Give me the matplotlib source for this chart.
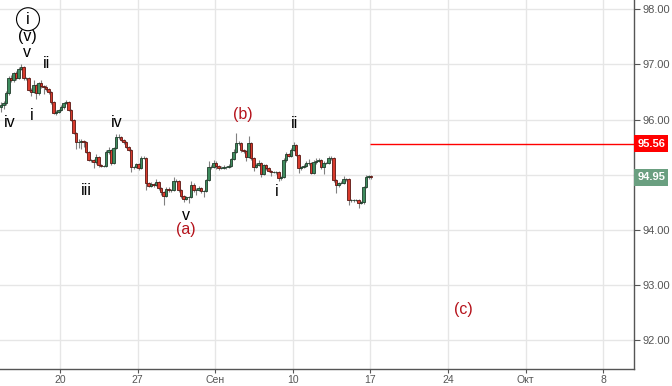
import matplotlib
matplotlib.use("Agg")
import matplotlib.pyplot as plt
import matplotlib.transforms as mtransforms

plt.rcParams['font.family'] = ['Liberation Sans', 'DejaVu Sans']

# 4h candles, closes (open = previous close)
first_open = 96.22
closes = [
    96.26, 96.30, 96.48, 96.75, 96.72, 96.84, 96.75, 96.92, 96.95, 96.75,
    96.75, 96.54, 96.50, 96.63, 96.48, 96.66, 96.61, 96.59, 96.55, 96.50,
    96.32, 96.12, 96.14, 96.17, 96.23, 96.30, 96.32, 96.17, 95.99, 95.76,
    95.59, 95.59, 95.61, 95.59, 95.41, 95.26, 95.26, 95.23, 95.32, 95.17,
    95.16, 95.16, 95.41, 95.45, 95.21, 95.48, 95.68, 95.68, 95.63, 95.59,
    95.50, 95.45, 95.14, 95.14, 95.19, 95.12, 95.30, 95.30, 94.85, 94.80,
    94.83, 94.81, 94.87, 94.76, 94.68, 94.61, 94.74, 94.72, 94.72, 94.89,
    94.89, 94.72, 94.61, 94.56, 94.59, 94.59, 94.81, 94.72, 94.72, 94.76,
    94.70, 94.70, 94.90, 95.14, 95.14, 95.21, 95.16, 95.12, 95.12, 95.14,
    95.14, 95.16, 95.28, 95.41, 95.57, 95.57, 95.45, 95.43, 95.32, 95.57,
    95.30, 95.14, 95.17, 95.21, 95.01, 95.17, 95.12, 95.06, 95.05, 95.05,
    95.05, 94.94, 94.96, 95.26, 95.37, 95.34, 95.45, 95.54, 95.36, 95.12,
    95.14, 95.16, 95.21, 95.21, 95.03, 95.23, 95.25, 95.26, 95.14, 95.21,
    95.21, 95.30, 95.30, 94.90, 94.81, 94.85, 94.85, 94.92, 94.92, 94.54,
    94.54, 94.54, 94.54, 94.48, 94.50, 94.77, 94.95, 94.97, 94.95,
]
upper_wick = [
    0.05, 0.04, 0.03, 0.04, 0.05, 0.03, 0.04, 0.03, 0.06, 0.02,
    0.03, 0.02, 0.03, 0.08, 0.02, 0.03, 0.05, 0.02, 0.03, 0.02,
    0.02, 0.02, 0.03, 0.02, 0.03, 0.02, 0.04, 0.02, 0.02, 0.02,
    0.02, 0.05, 0.03, 0.02, 0.02, 0.02, 0.03, 0.02, 0.05, 0.02,
    0.02, 0.02, 0.04, 0.06, 0.02, 0.03, 0.06, 0.05, 0.02, 0.02,
    0.02, 0.02, 0.02, 0.02, 0.03, 0.02, 0.04, 0.03, 0.02, 0.02,
    0.03, 0.02, 0.05, 0.02, 0.02, 0.02, 0.04, 0.03, 0.02, 0.07,
    0.03, 0.02, 0.02, 0.02, 0.03, 0.02, 0.08, 0.03, 0.03, 0.03,
    0.02, 0.02, 0.03, 0.10, 0.04, 0.06, 0.03, 0.02, 0.03, 0.03,
    0.02, 0.04, 0.03, 0.05, 0.19, 0.04, 0.02, 0.02, 0.02, 0.14,
    0.02, 0.02, 0.04, 0.05, 0.02, 0.03, 0.02, 0.02, 0.02, 0.02,
    0.02, 0.02, 0.02, 0.04, 0.05, 0.03, 0.04, 0.05, 0.02, 0.02,
    0.02, 0.03, 0.04, 0.08, 0.02, 0.03, 0.05, 0.04, 0.02, 0.03,
    0.02, 0.03, 0.03, 0.02, 0.02, 0.02, 0.03, 0.05, 0.02, 0.02,
    0.02, 0.02, 0.02, 0.02, 0.03, 0.03, 0.04, 0.03, 0.02,
]
lower_wick = [
    0.08, 0.06, 0.04, 0.03, 0.04, 0.03, 0.03, 0.02, 0.02, 0.03,
    0.03, 0.03, 0.08, 0.02, 0.10, 0.03, 0.03, 0.12, 0.03, 0.03,
    0.03, 0.02, 0.03, 0.02, 0.02, 0.03, 0.02, 0.02, 0.02, 0.02,
    0.12, 0.10, 0.12, 0.08, 0.02, 0.02, 0.03, 0.11, 0.03, 0.04,
    0.02, 0.03, 0.02, 0.03, 0.03, 0.02, 0.02, 0.03, 0.02, 0.03,
    0.02, 0.02, 0.09, 0.03, 0.02, 0.03, 0.02, 0.02, 0.13, 0.03,
    0.02, 0.04, 0.02, 0.03, 0.04, 0.16, 0.02, 0.03, 0.04, 0.02,
    0.02, 0.03, 0.03, 0.06, 0.02, 0.10, 0.02, 0.03, 0.08, 0.02,
    0.03, 0.10, 0.02, 0.02, 0.03, 0.02, 0.05, 0.03, 0.02, 0.02,
    0.03, 0.02, 0.02, 0.02, 0.02, 0.03, 0.04, 0.03, 0.08, 0.02,
    0.03, 0.07, 0.02, 0.02, 0.06, 0.02, 0.03, 0.02, 0.08, 0.02,
    0.03, 0.06, 0.03, 0.02, 0.03, 0.02, 0.02, 0.02, 0.02, 0.09,
    0.03, 0.02, 0.02, 0.03, 0.02, 0.02, 0.03, 0.02, 0.03, 0.12,
    0.02, 0.02, 0.03, 0.03, 0.14, 0.03, 0.02, 0.02, 0.03, 0.09,
    0.03, 0.03, 0.02, 0.08, 0.02, 0.03, 0.02, 0.02, 0.03,
]

# weekly ticks (Mondays), in candle-index units
tick_pos = [23.6, 54.64, 85.68, 116.72, 147.76, 178.8, 209.84, 240.88]
tick_labels = ['20', '27', 'Сен', '10', '17', '24', 'Окт', '8']
price_ticks = [92, 93, 94, 95, 96, 97, 98]
price_tick_labels = ['92.00', '93.00', '94.00', '', '96.00', '97.00', '98.00']

target_level = 95.56
last_price = closes[-1]

# wave labels: (text, x, y, colour)
waves = [
    ('(v)', 10.4, 97.50, 'black'),
    ('v', 10.4, 97.21, 'black'),
    ('ii', 18.4, 97.01, 'black'),
    ('iv', 3.6, 95.95, 'black'),
    ('i', 12.4, 96.08, 'black'),
    ('iv', 46.4, 95.95, 'black'),
    ('iii', 34.0, 94.72, 'black'),
    ('v', 74.0, 94.25, 'black'),
    ('(a)', 74.0, 94.00, '#b5121b'),
    ('(b)', 96.8, 96.10, '#b5121b'),
    ('ii', 117.6, 95.93, 'black'),
    ('i', 110.4, 94.69, 'black'),
    ('(c)', 184.8, 92.55, '#b5121b'),
]

opens = [first_open] + closes[:-1]
highs = [max(o, c) + w for o, c, w in zip(opens, closes, upper_wick)]
lows = [min(o, c) - w for o, c, w in zip(opens, closes, lower_wick)]
xs = list(range(len(closes)))

fig = plt.figure(figsize=(6.72, 3.86), dpi=100)
ax = fig.add_axes([0, 17 / 386, 634 / 672, 369 / 386])

ax.vlines(xs, lows, highs, color='#808080', lw=0.8, zorder=2)
up_col, dn_col = '#3e8c5e', '#d83a2c'
for x, o, c in zip(xs, opens, closes):
    up = c >= o
    ax.bar(x, c - o if abs(c - o) > 0.004 else 0.004, bottom=o, width=0.95,
           color=up_col if up else dn_col,
           edgecolor='#1f3b2a' if up else '#5a1612', linewidth=0.6, zorder=3)

ax.hlines(target_level, 147.6, 253.2, color='red', lw=1, zorder=4)

for txt, x, y, col in waves:
    ax.text(x, y, txt, ha='center', va='center', fontsize=11.5, color=col, zorder=5)
ax.text(10.8, 97.82, 'i', ha='center', va='center', fontsize=11.5, zorder=5,
        bbox=dict(boxstyle='circle,pad=0.25', fc='white', ec='black', lw=0.8))

ax.set_xlim(-0.4, 253.2)
ax.set_ylim(91.474, 98.169)
ax.set_xticks(tick_pos)
ax.set_xticklabels(tick_labels)
ax.set_yticks(price_ticks)
ax.set_yticklabels(price_tick_labels)
ax.yaxis.tick_right()
ax.grid(True, color='#e6e6e6', lw=1)
ax.set_axisbelow(True)
ax.tick_params(axis='y', colors='#555555', labelcolor='#555555', labelsize=8,
               length=4, width=0.8, direction='out', pad=2)
ax.tick_params(axis='x', colors='#555555', labelcolor='#555555', labelsize=7.5,
               length=3, width=0.8, direction='out', pad=1)
for s in ['top', 'left']:
    ax.spines[s].set_visible(False)
for s in ['bottom', 'right']:
    ax.spines[s].set_color('#555555')
    ax.spines[s].set_linewidth(1)

trans = mtransforms.blended_transform_factory(ax.transAxes, ax.transData)
ax.text(1.005, target_level, '95.56', transform=trans, ha='left', va='center',
        fontsize=8, fontweight='bold', color='white', clip_on=False,
        bbox=dict(boxstyle='square,pad=0.3', fc='red', ec='none'))
ax.text(1.005, last_price, f'{last_price:.2f}', transform=trans, ha='left', va='center',
        fontsize=8, fontweight='bold', color='white', clip_on=False,
        bbox=dict(boxstyle='square,pad=0.3', fc='#6a9f80', ec='none'))

fig.savefig('out.png', dpi=100)
